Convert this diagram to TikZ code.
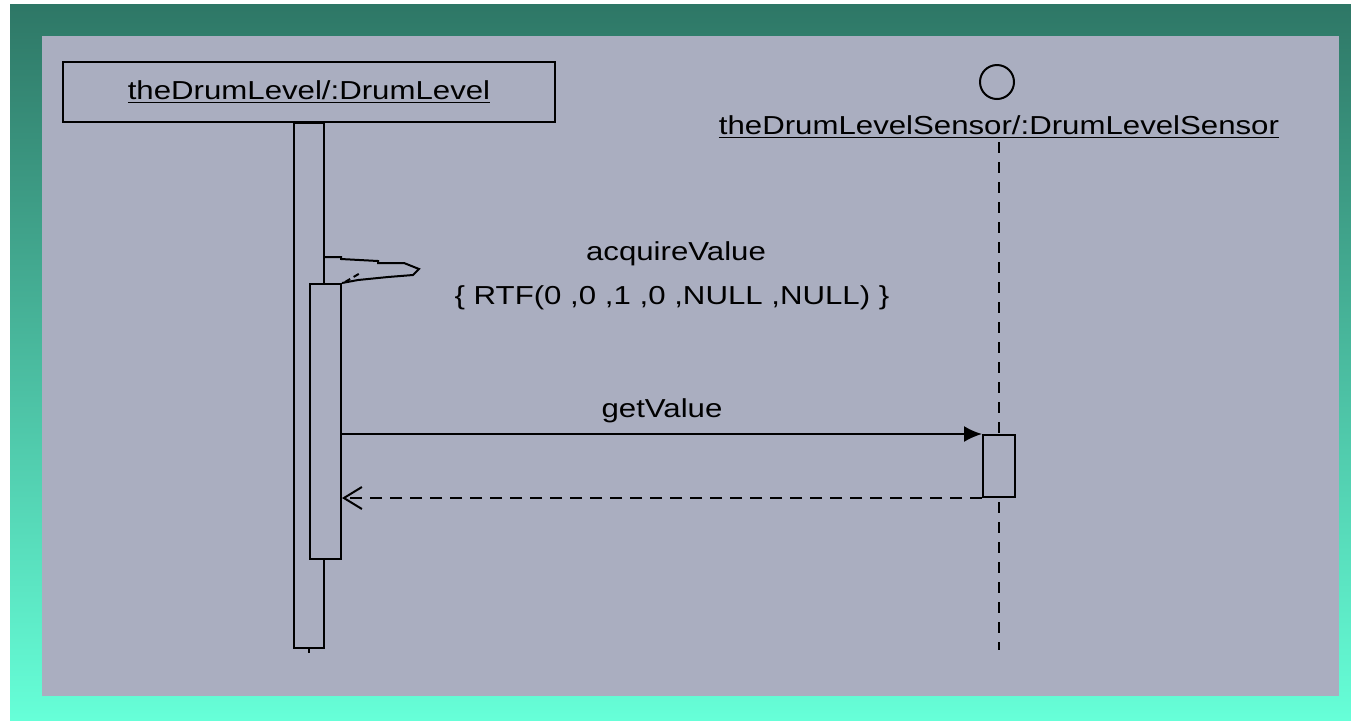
\documentclass[tikz,border=0pt]{standalone}
\usepackage{fontspec}
\setmainfont{Liberation Sans}[FakeStretch=1.2]
\usetikzlibrary{calc, arrows.meta}
\definecolor{frametop}{RGB}{46,119,102}
\definecolor{framebot}{RGB}{102,255,216}
\definecolor{panel}{RGB}{170,174,192}
\tikzstyle{lbl}=[font=\fontsize{13}{15}\selectfont, inner sep=0pt]
\tikzstyle{obj}=[draw, line width=1pt, font=\fontsize{13}{15}\selectfont]
\tikzstyle{act}=[draw, fill=panel, line width=1pt, inner sep=0pt]
\tikzstyle{life}=[line width=1pt, dash pattern=on 5.5pt off 4.5pt]

\begin{document}
\begin{tikzpicture}[x=0.5pt,y=-0.5pt,>={Latex[length=9pt,width=8pt]},line width=1pt]
      \useasboundingbox (0,0) rectangle (1351,720);
      \shade[top color=frametop, bottom color=framebot] (10,4) rectangle (1351,720);
      \fill[panel] (42,36) rectangle (1339,696);
      % objects
      \node [obj, minimum width=246pt, minimum height=30pt] (lvl) at (309,92) {\underline{theDrumLevel/:DrumLevel}};
      \node [circle, draw, line width=1pt, minimum size=17pt, inner sep=0pt] (sen) at (997,82) {};
      \node [lbl] (sentxt) at (999,127) {\underline{theDrumLevelSensor/:DrumLevelSensor}};
      \coordinate (senend) at (999,650);
      % activations
      \node [act, minimum width=15pt, minimum height=262.5pt, anchor=north] (lvlbar) at (309,122) {};
      \node [act, minimum width=15.5pt, minimum height=137.5pt, anchor=north west] (lvlcall) at (309,283) {};
      \draw [life] (999,142) -- (senend);
      \node [act, minimum width=16pt, minimum height=31pt, anchor=north] (senbar) at (999,434) {};
      \draw (lvlbar.south) -- ++(0,4);
      % self call
      \draw ($(lvlbar.north east)+(0,135)$) -- ++(16,0) -- ++(0,2) -- ++(37,2) -- ++(0,2) -- ++(26,0)
            -- ++(15,6) -- ++(-6,6) -- ++(-25,2) -- ++(-30,3) -- (lvlcall.north east);
      \draw [dash pattern=on 3pt off 2pt] ($(lvlcall.north east)+(3,-1)$) -- ++(17,-10);
      \node [lbl] (callname) at (676,254) {acquireValue};
      \node [lbl] (callexpr) at (672,298) {\{ RTF(0 ,0 ,1 ,0 ,NULL ,NULL) \}};
      % messages
      \draw [->] (senbar.north west -| lvlcall.east) -- node [lbl, above=5pt] {getValue} (senbar.north west);
      \draw [-{Straight Barb[length=9pt,width=11pt]}, dash pattern=on 6pt off 4pt] (senbar.south west) -- (senbar.south west -| lvlcall.east);
\end{tikzpicture}
\end{document}
